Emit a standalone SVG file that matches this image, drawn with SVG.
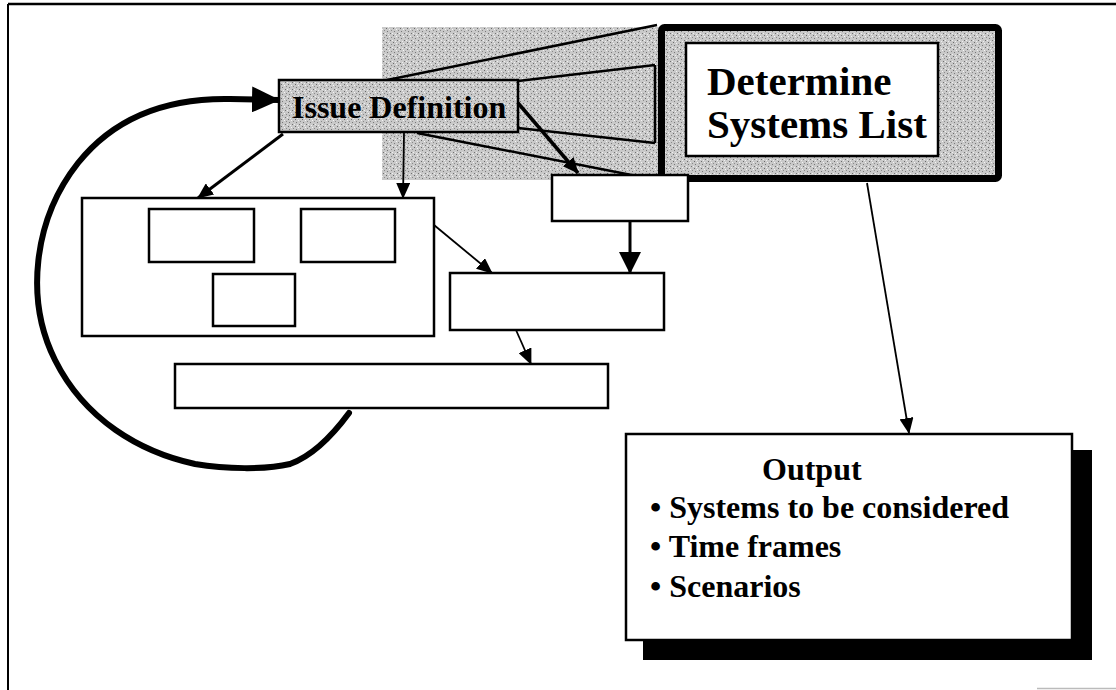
<svg xmlns="http://www.w3.org/2000/svg" width="1116" height="690" viewBox="0 0 1116 690">
<style>
.box{fill:#fff;stroke:#000;stroke-width:2.5}
.ln{fill:none;stroke:#000;stroke-width:2.5}
.thin{fill:none;stroke:#000;stroke-width:1.8}
.t{font-family:"Liberation Serif","Times New Roman",serif;font-weight:bold;fill:#000}
</style>
<defs>
<pattern id="grain" width="7" height="7" patternUnits="userSpaceOnUse">
<rect width="7" height="7" fill="#c9c9c9"/>
<rect x="1" y="0" width="1" height="1" fill="#6a6a6a"/>
<rect x="4" y="1" width="1" height="1" fill="#f4f4f4"/>
<rect x="2" y="3" width="1" height="1" fill="#777"/>
<rect x="6" y="2" width="1" height="1" fill="#8a8a8a"/>
<rect x="0" y="5" width="1" height="1" fill="#f0f0f0"/>
<rect x="5" y="5" width="1" height="1" fill="#707070"/>
<rect x="3" y="6" width="1" height="1" fill="#eee"/>
</pattern>
<marker id="ah" markerUnits="userSpaceOnUse" markerWidth="16" markerHeight="14" refX="15" refY="7" orient="auto">
<path d="M0,0 L16,7 L0,14 Z" fill="#000"/>
</marker>
<marker id="ahBig" markerUnits="userSpaceOnUse" markerWidth="22" markerHeight="22" refX="21" refY="11" orient="auto">
<path d="M0,0 L22,11 L0,22 Z" fill="#000"/>
</marker>
<marker id="ahCurve" markerUnits="userSpaceOnUse" markerWidth="28" markerHeight="26" refX="27" refY="13" orient="auto">
<path d="M0,0 L28,13 L0,26 Z" fill="#000"/>
</marker>
</defs>

<g id="frame">
<line x1="8" y1="4" x2="1116" y2="4" stroke="#000" stroke-width="2.5"/>
<line x1="8" y1="4" x2="8" y2="690" stroke="#000" stroke-width="2"/>
<line x1="1037" y1="688.5" x2="1116" y2="688.5" stroke="#bbb" stroke-width="1.5"/>
</g>

<g id="zoom-backdrop">
<rect x="382" y="27" width="278" height="153" fill="url(#grain)"/>
</g>

<g id="connectors">
<line class="ln" x1="387" y1="80" x2="657" y2="25"/>
<line class="ln" x1="518" y1="81" x2="655" y2="65"/>
<line class="ln" x1="518" y1="128" x2="655" y2="143"/>
<line class="ln" x1="417" y1="133" x2="662" y2="181"/>
<line class="ln" x1="655" y1="65" x2="655" y2="143"/>
<line x1="518" y1="103" x2="578" y2="173" stroke="#000" stroke-width="3.5" marker-end="url(#ah)"/>
<line x1="283" y1="134" x2="198" y2="198" stroke="#000" stroke-width="3" marker-end="url(#ah)"/>
<line class="thin" x1="404" y1="133" x2="403" y2="198" marker-end="url(#ah)"/>
<line class="thin" x1="434" y1="225" x2="492" y2="273" marker-end="url(#ah)"/>
<line x1="630" y1="221" x2="630" y2="273" stroke="#000" stroke-width="3" marker-end="url(#ahBig)"/>
<line class="thin" x1="516" y1="330" x2="531" y2="364" marker-end="url(#ah)"/>
<line class="thin" x1="867" y1="183" x2="909" y2="433" marker-end="url(#ah)"/>
<path d="M349,413 C335,432 315,455 290,464 C265,470 225,469 195,464 C140,452 85,420 55,360 C25,300 33,220 78,163 C118,113 175,98 230,99 L279,100" fill="none" stroke="#000" stroke-width="6" stroke-linecap="round" marker-end="url(#ahCurve)"/>
</g>

<g id="issue-definition">
<rect x="279" y="80" width="239" height="52" fill="url(#grain)" stroke="#000" stroke-width="2.5"/>
<text class="t" x="292" y="118" font-size="32">Issue Definition</text>
</g>

<g id="determine-systems-list">
<rect x="661.5" y="27.5" width="337" height="151" rx="3" fill="url(#grain)" stroke="#000" stroke-width="7"/>
<rect x="686" y="43" width="252" height="113" class="box"/>
<text class="t" x="707" y="95" font-size="41">Determine</text>
<text class="t" x="707" y="138" font-size="41">Systems List</text>
</g>

<g id="big-box">
<rect x="82" y="198" width="352" height="138" class="box"/>
</g>
<g id="sub-box-a"><rect x="149" y="209" width="105" height="53" class="box"/></g>
<g id="sub-box-b"><rect x="301" y="209" width="94" height="53" class="box"/></g>
<g id="sub-box-c"><rect x="213" y="274" width="82" height="52" class="box"/></g>
<g id="small-box"><rect x="552" y="175" width="136" height="46" class="box"/></g>
<g id="middle-box"><rect x="450" y="273" width="214" height="57" class="box"/></g>
<g id="wide-box"><rect x="175" y="364" width="433" height="44" class="box"/></g>

<g id="output">
<rect x="643" y="450" width="449" height="210" fill="#000"/>
<rect x="626" y="434" width="446" height="206" class="box" stroke-width="2"/>
<text class="t" x="762" y="480" font-size="32">Output</text>
<text class="t" x="650" y="518" font-size="32">• Systems to be considered</text>
<text class="t" x="650" y="557" font-size="32">• Time frames</text>
<text class="t" x="650" y="597" font-size="32">• Scenarios</text>
</g>
</svg>
